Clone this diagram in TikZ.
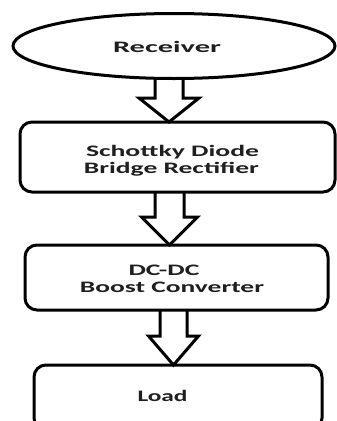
\documentclass[tikz,border=0pt]{standalone}
\usepackage{fontspec}
\setmainfont{Carlito}
\usetikzlibrary{shapes.geometric,calc}
\newcommand{\wline}[2]{\resizebox{#1pt}{\height}{#2}}
% from, to, centre x, half stem, half head, head length
\newcommand{\blockarrow}[6]{%
  \draw[blockarr] let \p1=(#1.south), \p2=(#2.north) in
    (#3pt-#4pt,\y1) -- (#3pt-#4pt,\y2+#6pt) -- (#3pt-#5pt,\y2+#6pt) -- (#3pt,\y2)
    -- (#3pt+#5pt,\y2+#6pt) -- (#3pt+#4pt,\y2+#6pt) -- (#3pt+#4pt,\y1);}
\begin{document}
\begin{tikzpicture}[x=1pt,y=-1pt,
  shapeline/.style={draw=black,line width=3pt,fill=white,outer sep=0pt},
  ebox/.style={shapeline,ellipse,inner sep=0pt},
  rbox/.style={shapeline,rectangle,rounded corners=12pt,inner sep=0pt},
  lbl/.style={anchor=base,inner sep=0pt,font=\bfseries\fontsize{16}{19}\selectfont,text=black!88},
  blockarr/.style={draw=black,line width=3pt,line join=miter}]
\useasboundingbox (0,0) rectangle (337,421);
\clip (0,0) rectangle (337,421);
\node[ebox,minimum width=322pt,minimum height=65pt] (rec) at (174,46) {};
\node[rbox,minimum width=315pt,minimum height=70pt] (rect) at (177.5,157) {};
\node[rbox,minimum width=303pt,minimum height=65pt] (conv) at (176.5,277.5) {};
\node[rbox,minimum width=288pt,minimum height=65pt] (load) at (178,397.5) {};
\blockarrow{rec}{rect}{169}{14}{30}{24}
\blockarrow{rect}{conv}{169.5}{14.5}{28}{28}
\blockarrow{conv}{load}{173.5}{13.5}{25}{29}
\node[lbl] (t1) at (167,52.5) {\wline{108}{Receiver}};
\node[lbl] (t2a) at (172.5,156.5) {\wline{173}{Schottky Diode}};
\node[lbl] (t2b) at (171.5,173.5) {\wline{175}{Bridge Rectifier}};
\node[lbl] (t3a) at (164,275.5) {\wline{71}{DC-DC}};
\node[lbl] (t3b) at (172,292.5) {\wline{184}{Boost Converter}};
\node[lbl] (t4) at (162.5,401.5) {\wline{50}{Load}};
\end{tikzpicture}
\end{document}
